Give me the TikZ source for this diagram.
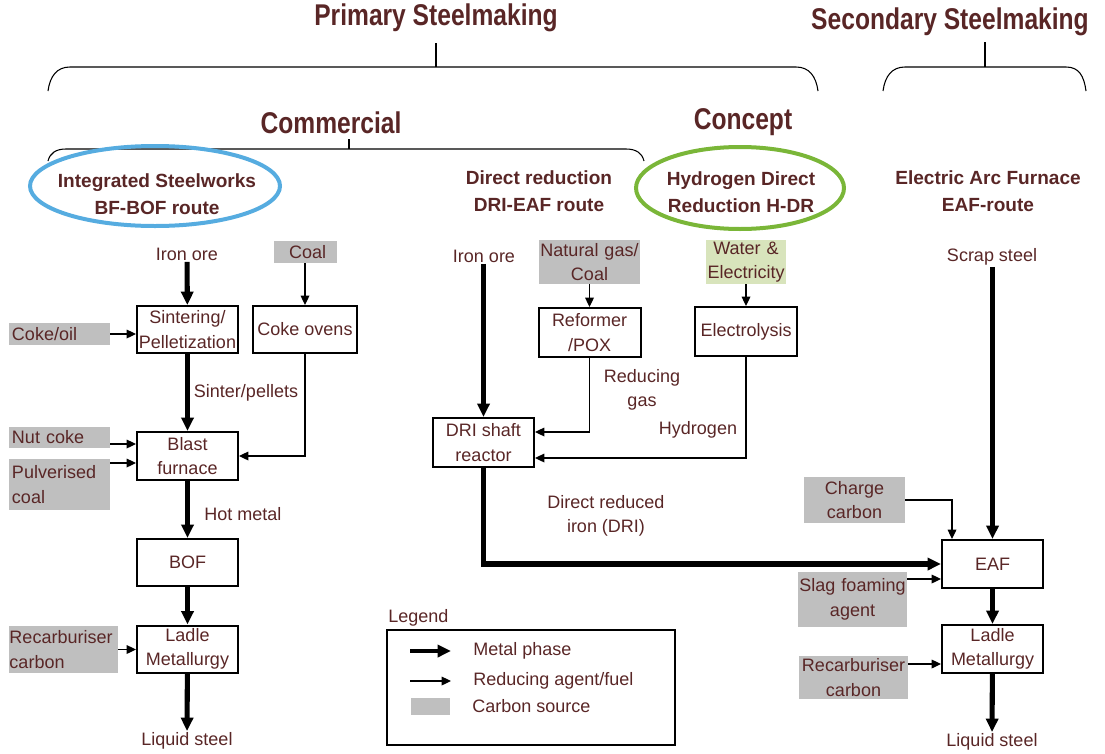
\documentclass[tikz,border=0pt]{standalone}
\usepackage{fontspec}
\setmainfont{Liberation Sans}
\newfontfamily\narrowfont{Liberation Sans}[FakeStretch=0.82]
\usetikzlibrary{arrows.meta,calc}
\definecolor{txt}{RGB}{89,38,38}
\definecolor{cgray}{RGB}{191,191,191}
\definecolor{cgreen}{RGB}{216,228,188}
\definecolor{cblue}{RGB}{86,172,224}
\definecolor{cgreenline}{RGB}{122,182,56}
\newcommand\lblfont{\fontsize{13.5}{18.3}\selectfont}
\newcommand\subtfont{\bfseries\fontsize{14.3}{20.7}\selectfont}
\newcommand\ttlfont{\narrowfont\bfseries\fontsize{22.5}{27}\selectfont}
\begin{document}
\begin{tikzpicture}[x=0.75pt,y=-0.75pt,
  lbl/.style={text=txt,font=\lblfont,inner sep=1pt,align=center},
  box/.style={draw,line width=1.5pt,inner sep=0pt,text=txt,font=\lblfont,align=center,minimum width=75.75pt,minimum height=35.25pt},
  gbox/.style={fill=cgray,inner sep=0pt,text=txt,font=\lblfont,align=center},
  metal/.style={line width=3.8pt,-{Triangle[length=10pt,width=9pt]}},
  fuel/.style={line width=0.9pt,-{Triangle[length=7pt,width=6.5pt]}},
  brace/.style={line width=0.8pt},
  ttl/.style={text=txt,font=\ttlfont,inner sep=0pt},
  subttl/.style={text=txt,font=\subtfont,align=center,inner sep=0pt}]
\useasboundingbox (0,0) rectangle (1105,753);

% titles and braces
\node[ttl] (primary) at (436,18) {Primary Steelmaking};
\node[ttl] (secondary) at (950,22) {Secondary Steelmaking};
\node[ttl] (commercial) at (331,123) {Commercial};
\node[ttl] (concept) at (743,122) {Concept};
\draw[brace] (48,91) .. controls (50,76) and (57,67) .. (70,67) -- (796,67) .. controls (809,67) and (816,76) .. (818,91);
\draw[brace] (436,43) -- (436,67);
\draw[brace] (883,91) .. controls (885,76) and (892,67) .. (905,67) -- (1066,67) .. controls (1079,67) and (1084,76) .. (1086,91);
\draw[brace] (985,42) -- (985,67);
\draw[brace] (48,161) .. controls (50,153) and (56,149) .. (66,149) -- (626,149) .. controls (636,149) and (642,153) .. (644,161);
\draw[brace] (349,139) -- (349,149);

% route headings
\draw[cblue,line width=3pt] (155,186) ellipse [x radius=93.75pt, y radius=30pt];
\draw[cgreenline,line width=3pt] (740,188) ellipse [x radius=78pt, y radius=30.75pt];
\node[subttl] (bfbof) at (157,194) {Integrated Steelworks\\BF-BOF route};
\node[subttl] (drieaf) at (539,191) {Direct reduction\\DRI-EAF route};
\node[subttl] (hdr) at (741,192) {Hydrogen Direct\\Reduction H-DR};
\node[subttl] (eafroute) at (988,191) {Electric Arc Furnace\\EAF-route};

% BF-BOF column
\node[lbl] (ironore1) at (187,254) {Iron ore};
\node[gbox,minimum width=47.25pt,minimum height=16.5pt] (coal) at (305,252) {\hspace{4pt}Coal};
\node[box] (sinter) at (187.5,329.5) {Sintering/\\Pelletization};
\node[box,minimum width=78pt] (cokeov) at (305,329.5) {Coke ovens};
\node[gbox,minimum width=75.75pt,text width=71.25pt,inner xsep=2.25pt,align=left,minimum height=16.5pt] (cokeoil) at (59.5,334) {Coke/oil};
\node[box,minimum height=36pt] (bf) at (187.5,456) {Blast\\furnace};
\node[gbox,minimum width=75.75pt,text width=71.25pt,inner xsep=2.25pt,align=left,minimum height=15.75pt] (nutcoke) at (59.5,437.5) {Nut coke};
\node[gbox,minimum width=75.75pt,text width=71.25pt,inner xsep=2.25pt,align=left,minimum height=38.25pt] (pulv) at (59.5,484.5) {Pulverised\\coal};
\node[box] (bof) at (187.5,562.5) {BOF};
\node[box] (ladle1) at (187.5,649) {Ladle\\Metallurgy};
\node[gbox,minimum width=81.75pt,text width=81pt,inner xsep=0.4pt,align=left,minimum height=35.25pt] (recarb1) at (63.5,649.5) {Recarburiser\\carbon};
\node[lbl] (liquid1) at (187,741) {Liquid steel};
\node[lbl] (sinterlbl) at (246,393) {Sinter/pellets};
\node[lbl] (hotmetal) at (243,514) {Hot metal};

\coordinate (nc) at (0,444);
\coordinate (pc) at (0,463);
\draw[metal] (ironore1) -- (sinter);
\draw[fuel] (coal) -- (cokeov);
\draw[fuel] (cokeoil.east) -- (cokeoil.east -| sinter.west);
\draw[metal] (sinter) -- (bf);
\draw[fuel] (cokeov.south) |- (bf.east);
\draw[fuel] (nutcoke.east |- nc) -- (bf.west |- nc);
\draw[fuel] (pulv.east |- pc) -- (bf.west |- pc);
\draw[metal] (bf) -- (bof);
\draw[metal] (bof) -- (ladle1);
\draw[metal] (ladle1) -- (liquid1);
\draw[fuel] (recarb1.east) -- (recarb1.east -| ladle1.west);

% DRI column
\node[lbl] (ironore2) at (484,256) {Iron ore};
\node[gbox,minimum width=75.75pt,text width=75.75pt,minimum height=33pt] (natgas) at (589.5,262) {Natural gas/\\Coal};
\node[gbox,fill=cgreen,minimum width=60pt,text width=60pt,minimum height=33pt] (water) at (746,262) {Water \&\\Electricity};
\node[box,minimum width=76.5pt,minimum height=36.75pt] (reformer) at (589.5,332.5) {Reformer\\/POX};
\node[box,minimum width=76.5pt,minimum height=36.75pt] (electro) at (746,331.5) {Electrolysis};
\node[box,minimum height=36.75pt] (dri) at (483.5,442.5) {DRI shaft\\reactor};
\node[lbl] (redgas) at (642,390) {Reducing\\gas};
\node[lbl] (hydrogen) at (698,430) {Hydrogen};
\node[lbl] (drilbl) at (606,516) {Direct reduced\\iron (DRI)};

\coordinate (rg) at (0,432);
\coordinate (hy) at (0,458);
\draw[metal] (ironore2.south -| dri.north) -- (dri.north);
\draw[fuel] (natgas.south -| reformer.north) -- (reformer.north);
\draw[fuel] (water) -- (electro);
\draw[fuel] (reformer.south) |- (dri.east |- rg);
\draw[fuel] (electro.south) |- (dri.east |- hy);

% EAF column
\node[lbl] (scrap) at (992,257) {Scrap steel};
\node[gbox,minimum width=75.75pt,text width=75.75pt,minimum height=34.5pt] (chargec) at (854.5,500) {Charge\\carbon};
\node[box,minimum height=36pt] (eaf) at (992.5,564) {EAF};
\node[gbox,minimum width=81.75pt,text width=81.75pt,minimum height=41.25pt] (slag) at (852.5,599.5) {Slag foaming\\agent};
\node[box,minimum height=36pt] (ladle2) at (992.5,649) {Ladle\\Metallurgy};
\node[gbox,minimum width=81.75pt,text width=81.75pt,minimum height=32.25pt] (recarb2) at (853.5,677.5) {Recarburiser\\carbon};
\node[lbl] (liquid2) at (992,742) {Liquid steel};

\coordinate (cc) at (952,0);
\coordinate (sl) at (0,579);
\coordinate (rc) at (0,664);
\draw[metal] (scrap.south -| eaf.north) -- (eaf.north);
\draw[fuel] (chargec.east) -| (cc |- eaf.north);
\draw[metal] (dri.south) |- (eaf.west);
\draw[fuel] (slag.east |- sl) -- (eaf.west |- sl);
\draw[metal] (eaf) -- (ladle2);
\draw[fuel] (recarb2.east |- rc) -- (ladle2.west |- rc);
\draw[metal] (ladle2) -- (liquid2);

% legend
\node[lbl,anchor=west,inner sep=0pt] (legend) at (388,618) {Legend};
\node[draw,line width=0.9pt,minimum width=216pt,minimum height=86.25pt,inner sep=0pt] (legendbox) at (531,687.5) {};
\coordinate (la1) at (410,651);
\coordinate (lb1) at (451,651);
\coordinate (la2) at (410,681);
\coordinate (lb2) at (451,681);
\draw[metal,line width=3.3pt] (la1) -- (lb1);
\draw[fuel] (la2) -- (lb2);
\node[fill=cgray,minimum width=29.25pt,minimum height=12.75pt,inner sep=0pt] (lgray) at (430.5,706.5) {};
\node[lbl,anchor=west,inner sep=0pt] (lt1) at (473,651) {Metal phase};
\node[lbl,anchor=west,inner sep=0pt] (lt2) at (473,681) {Reducing agent/fuel};
\node[lbl,anchor=west,inner sep=0pt] (lt3) at (472,706) {Carbon source};
\end{tikzpicture}
\end{document}
